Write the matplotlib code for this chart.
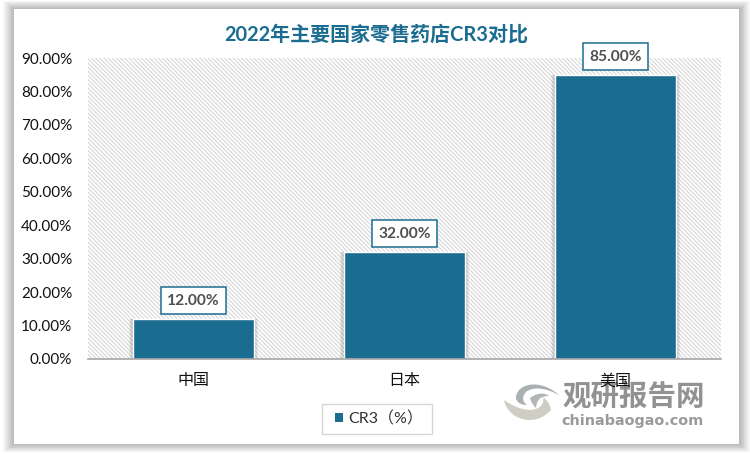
import matplotlib
matplotlib.use("Agg")
import matplotlib.pyplot as plt
from matplotlib.patches import Rectangle, PathPatch
from matplotlib.path import Path
from matplotlib.ticker import FuncFormatter

plt.rcParams['font.family'] = ['Lato', 'Noto Sans CJK SC', 'DejaVu Sans']
plt.rcParams['hatch.linewidth'] = 0.7

categories = ["中国", "日本", "美国"]
values = [12, 32, 85]
y_ticks = [0, 10, 20, 30, 40, 50, 60, 70, 80, 90]
series_name = "CR3（%）"
title = "2022年主要国家零售药店CR3对比"

W, H = 750, 454
BLUE = "#1b6c91"

fig = plt.figure(figsize=(W / 100, H / 100), dpi=100, facecolor="white")


def blob(ax, start, curves, color):
    # closed shape from cubic bezier segments, pixel coords
    verts = [start]
    codes = [Path.MOVETO]
    for c in curves:
        verts += c
        codes += [Path.CURVE4] * 3
    verts.append(start)
    codes.append(Path.CLOSEPOLY)
    ax.add_patch(PathPatch(Path(verts, codes), fc=color, ec="none"))


# background layer in pixel coords: card, shadow, watermark
bg = fig.add_axes([0, 0, 1, 1], zorder=-1)
bg.set_xlim(0, W)
bg.set_ylim(H, 0)
bg.axis("off")
for i in range(12, 0, -1):
    bg.add_patch(Rectangle((14 - i * 0.9, 9 - i * 0.7), 725 + i * 1.8, 435 + i * 1.4,
                           fc="black", ec="none", alpha=0.022))
bg.add_patch(Rectangle((14, 9), 725, 435, fc="white", ec="none"))

# watermark logo
blob(bg, (516, 399), [[(515, 384), (540, 377), (560, 396)],
                      [(548, 388), (533, 386), (526, 392)],
                      [(522, 396), (522, 402), (527, 405)],
                      [(521, 405), (518, 403), (516, 399)]], "#aab0b2")
blob(bg, (504, 400), [[(508, 420), (535, 428), (551, 410)],
                      [(550, 404), (547, 400), (543, 397)],
                      [(546, 408), (530, 418), (504, 400)]], "#d0cdc5")
blob(bg, (530, 398), [[(538, 392), (546, 393), (549, 396)],
                      [(542, 396), (537, 398), (536, 408)],
                      [(533, 405), (531, 402), (530, 398)]], "#b2b6b6")
bg.text(634, 396, "观研报告网", color="#929292", fontsize=20.5, fontweight="bold",
        ha="center", va="center")
bg.text(632, 421, "chinabaogao.com", color="#9a9a9a", fontsize=10.4, fontweight="bold",
        ha="center", va="center", family="DejaVu Sans")

# legend frame drawn by hand, the legend's own pad is the same on all sides
bg.add_patch(Rectangle((321.5, 403.5), 110, 30, fc="white", ec="#d6d6d6", lw=1))

fig.text(376.5 / W, 1 - 35 / H, title, color=BLUE, fontsize=14.4, fontweight="bold",
         ha="center", va="center")

ax = fig.add_axes([88 / W, 1 - 359 / H, 633 / W, 301 / H])
ax.patch.set_facecolor("white")
ax.patch.set_edgecolor("#d2d2d2")
ax.patch.set_hatch("\\\\\\\\\\\\\\\\")
ax.patch.set_linewidth(0)

x = range(len(categories))
# soft shadow behind the bars
for off in [4, 3, 2]:
    ax.bar(x, values, width=0.57 + off * 0.0095, color="black", alpha=0.055, zorder=2)
bars = ax.bar(x, values, width=0.57, color=BLUE, edgecolor="white", linewidth=1,
              zorder=3, label=series_name)

for xi, v in zip(x, values):
    ax.annotate(f"{v:.2f}%", (xi, v), xytext=(0, 13), textcoords="offset points",
                ha="center", va="center", fontsize=11.2, fontweight="bold", color="#505050",
                zorder=5, annotation_clip=False,
                bbox=dict(boxstyle="square,pad=0.42", fc="white", ec=BLUE, lw=1.1))

ax.set_xlim(-0.5, 2.5)
ax.set_ylim(0, 90)
ax.set_yticks(y_ticks)
ax.yaxis.set_major_formatter(FuncFormatter(lambda v, p: f"{v:.2f}%"))
ax.set_xticks(list(x))
ax.set_xticklabels(categories)
ax.tick_params(axis="x", length=0, labelsize=11.5, colors="#111111", pad=11)
ax.tick_params(axis="y", length=0, labelsize=11, colors="#111111", pad=11.3)
for s in ["top", "left", "right"]:
    ax.spines[s].set_visible(False)
ax.spines["bottom"].set_color("#a6a6a6")
ax.spines["bottom"].set_linewidth(1.2)
ax.spines["bottom"].set_zorder(4)

leg = ax.legend(handles=[bars], loc="center", bbox_to_anchor=(379 / W, 1 - 418.5 / H),
                bbox_transform=fig.transFigure, frameon=False, fontsize=11.5,
                handlelength=0.5, handleheight=0.5, handletextpad=0.35,
                borderpad=0, borderaxespad=0, labelcolor="#333333")
leg.legend_handles[0].set_edgecolor("none")

fig.savefig("out.png", dpi=100)
